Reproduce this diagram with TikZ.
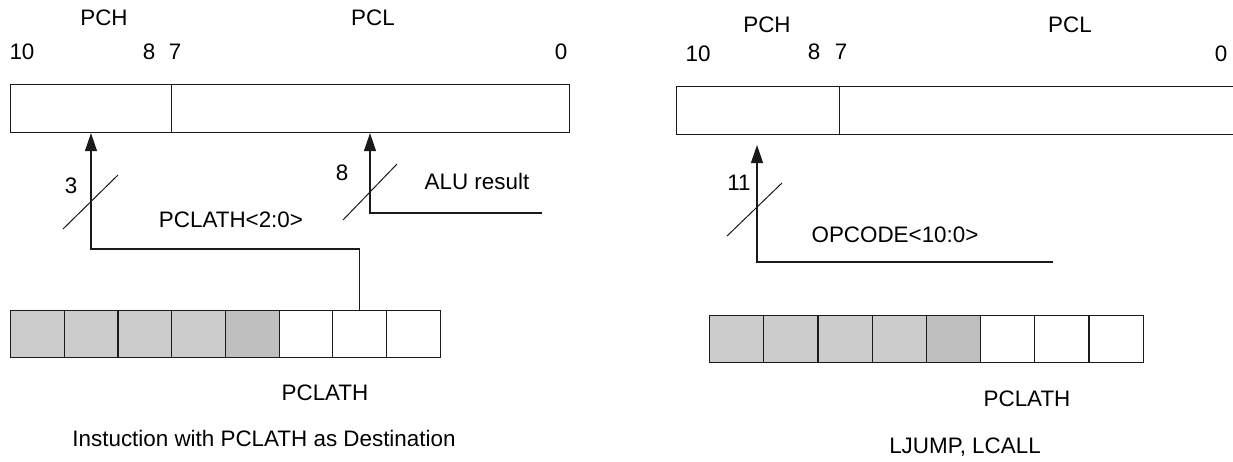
\documentclass[tikz,border=0pt]{standalone}
\usepackage{fontspec}
\setmainfont{Liberation Sans}
\usetikzlibrary{arrows.meta,positioning}
\definecolor{ink}{HTML}{1A1A1A}
\definecolor{cellg}{HTML}{CCCCCC}
\definecolor{celld}{HTML}{BFBFBF}
\tikzset{
  reg/.style={draw=ink,line width=1.1pt,rectangle,inner sep=0pt,anchor=north west,minimum height=48pt},
  cell/.style={draw=ink,line width=1.1pt,rectangle,inner sep=0pt,anchor=north west,minimum width=#1,minimum height=47pt},
  lbl/.style={font=\fontsize{22.4}{26}\selectfont,inner sep=0pt},
  bus/.style={draw=ink,line width=1.1pt},
  flow/.style={bus,-{Triangle[length=18pt,width=12pt]}},
  slash/.style={draw=ink,line width=1pt}
}
\begin{document}
\begin{tikzpicture}[x=1pt,y=-1pt]
  \useasboundingbox (0,0) rectangle (1233,461);
  \clip (0,0) rectangle (1233,461);
  % left: instruction with PCLATH as destination
  \node[reg,minimum width=161pt] (pch) at (10,84) {};
  \node[reg,minimum width=398pt] (pcl) at (171,84) {};
  \node[lbl] (pchl) at (104,18) {PCH};
  \node[lbl] (pcll) at (373,18) {PCL};
  \node[lbl] (b10) at (22,52) {10};
  \node[lbl] (b8) at (149,52) {8};
  \node[lbl] (b7) at (175,52) {7};
  \node[lbl] (b0) at (561,52) {0};
  \foreach \i/\c in {1/cellg,2/cellg,3/cellg,4/cellg,5/celld,6/white,7/white,8/white}
    \node[cell=53.7pt,fill=\c] (la\i) at ({10+(\i-1)*53.7},310) {};
  \node[lbl] (lpclath) at (325,393) {PCLATH};
  \node[lbl] (lcap) at (264,438) {Instuction with PCLATH as Destination};
  \coordinate (j1) at (91,249);
  \draw[flow] (la7.north) |- (j1) -- (j1 |- pch.south);
  \coordinate (s1) at (91,202);
  \draw[slash] (s1) +(-28,27) -- +(27,-27);
  \node[lbl] (w3) at (71,186) {3};
  \node[lbl] (lsrc) at (231,220) {PCLATH<2:0>};
  \coordinate (alu) at (542,213);
  \coordinate (j2) at (370,213);
  \draw[flow] (alu) -- (j2) -- (j2 |- pcl.south);
  \coordinate (s2) at (370,192);
  \draw[slash] (s2) +(-27,28) -- +(27,-28);
  \node[lbl] (w8) at (342,173) {8};
  \node[lbl] (alul) at (477,181) {ALU result};
  % right: LJUMP, LCALL
  \node[reg,minimum width=162.5pt] (rpch) at (676,86) {};
  \node[reg,minimum width=397pt] (rpcl) at (838.5,86) {};
  \node[lbl] (rpchl) at (767,25) {PCH};
  \node[lbl] (rpcll) at (1070,25) {PCL};
  \node[lbl] (r10) at (698,54) {10};
  \node[lbl] (r8) at (814,52) {8};
  \node[lbl] (r7) at (841,52) {7};
  \node[lbl] (r0) at (1221,54) {0};
  \foreach \i/\c in {1/cellg,2/cellg,3/cellg,4/cellg,5/celld,6/white,7/white,8/white}
    \node[cell=54.2pt,fill=\c] (ra\i) at ({709+(\i-1)*54.2},315) {};
  \node[lbl] (rpclath) at (1027,399) {PCLATH};
  \node[lbl] (rcap) at (965,447) {LJUMP, LCALL};
  \coordinate (op) at (1053,262);
  \coordinate (j3) at (757,262);
  \coordinate (rtip) at (757,145);
  \draw[flow] (op) -- (j3) -- (rtip);
  \coordinate (s3) at (757,209);
  \draw[slash] (s3) +(-30,27) -- +(25,-26);
  \node[lbl] (w11) at (739,183) {11};
  \node[lbl] (rsrc) at (895,235) {OPCODE<10:0>};
\end{tikzpicture}
\end{document}
